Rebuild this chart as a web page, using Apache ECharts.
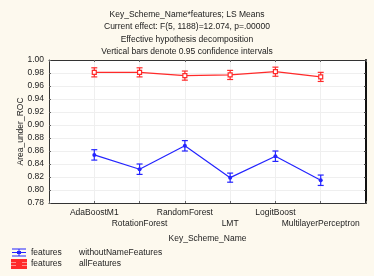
<!DOCTYPE html>
<html><head><meta charset="utf-8">
<script src="https://cdn.jsdelivr.net/npm/echarts@6/dist/echarts.min.js"></script>
<style>html,body{margin:0;padding:0;background:#fdf9ee;}#c{width:374px;height:276px;}</style>
</head><body><div id="c"></div>
<script>
const categories = ['AdaBoostM1','RotationForest','RandomForest','LMT','LogitBoost','MultilayerPerceptron'];
const seriesNames = ['withoutNameFeatures','allFeatures'];
const withoutNameFeatures = [0.854, 0.832, 0.868, 0.819, 0.852, 0.815];
const withoutNameErr = [0.008, 0.008, 0.008, 0.007, 0.008, 0.008];
const allFeatures = [0.981, 0.981, 0.976, 0.977, 0.982, 0.974];
const allFeaturesErr = [0.007, 0.007, 0.007, 0.007, 0.007, 0.007];
const titleLines = ['Key_Scheme_Name*features; LS Means','Current effect: F(5, 1188)=12.074, p=.00000','Effective hypothesis decomposition','Vertical bars denote 0.95 confidence intervals'];

const FONT = 'Liberation Sans, Arial, sans-serif';
const FS = 8.5;
const BLUE = '#2424ff', RED = '#ff2a2a';
const axisCats = [''].concat(categories, ['']);

function errSeries(name, vals, errs, color) {
  return {
    type: 'custom', name: name, silent: true, z: 4,
    data: vals.map((v, i) => [i + 1, v, errs[i]]),
    renderItem: function (params, api) {
      const x = api.value(0), v = api.value(1), e = api.value(2);
      const top = api.coord([x, v + e]), bot = api.coord([x, v - e]);
      const w = 3;
      const st = {stroke: color, lineWidth: 1.2};
      return {type: 'group', children: [
        {type: 'line', shape: {x1: top[0], y1: top[1], x2: bot[0], y2: bot[1]}, style: st},
        {type: 'line', shape: {x1: top[0]-w, y1: top[1], x2: top[0]+w, y2: top[1]}, style: st},
        {type: 'line', shape: {x1: bot[0]-w, y1: bot[1], x2: bot[0]+w, y2: bot[1]}, style: st}
      ]};
    }
  };
}
const iconPath = 'path://M0,0H14V1H0Z M0,3.5H14V4.5H0Z M0,7H14V8H0Z M6.5,0H7.5V8H6.5Z M5,2.5H9V5.5H5Z';

const chart = echarts.init(document.getElementById('c'), null, {renderer: 'canvas'});
chart.setOption({
  backgroundColor: '#fdf9ee',
  animation: false,
  textStyle: {fontFamily: FONT},
  title: {
    text: titleLines.join('\n'), left: 'center', top: 3,
    textStyle: {fontFamily: FONT, fontSize: FS, fontWeight: 'normal', color: '#1a1a1a', lineHeight: 12.5}
  },
  grid: {left: 49, right: 8, top: 60, bottom: 73, show: true, backgroundColor: '#ffffff', borderWidth: 0},
  legend: {
    orient: 'vertical', left: 11, top: 248, padding: 0, itemWidth: 14, itemHeight: 8, itemGap: 2,
    icon: iconPath, selectedMode: false,
    data: seriesNames.map((n, i) => ({name: n, itemStyle: {color: i === 0 ? BLUE : RED}})),
    formatter: n => '{a|features}{b|' + n + '}',
    textStyle: {fontFamily: FONT, fontSize: FS, color: '#222', padding: [0,0,0,0],
      rich: {a: {width: 48, fontSize: FS, fontFamily: FONT, color: '#222', lineHeight: 10}, b: {fontSize: FS, fontFamily: FONT, color: '#222', lineHeight: 10}}}
  },
  xAxis: [{
    type: 'category', data: axisCats, boundaryGap: false, position: 'bottom',
    name: 'Key_Scheme_Name', nameLocation: 'middle', nameGap: 30,
    nameTextStyle: {fontFamily: FONT, fontSize: FS, color: '#222'},
    axisLine: {lineStyle: {color: '#333', width: 1}},
    axisTick: {inside: true, length: 2, lineStyle: {color: '#666'}, interval: 0},
    axisLabel: {interval: 0, fontFamily: FONT, fontSize: FS, color: '#222', margin: 4, lineHeight: 11,
      formatter: (v, i) => (i % 2 === 0 ? '\n' + v : v)},
    splitLine: {show: true, interval: 0, lineStyle: {color: '#efefef', width: 1}}
  }, {
    type: 'category', data: axisCats, boundaryGap: false, position: 'top',
    axisLine: {lineStyle: {color: '#333', width: 1}},
    axisTick: {inside: true, length: 2, lineStyle: {color: '#666'}, interval: 0},
    axisLabel: {show: false}, splitLine: {show: false}
  }],
  yAxis: [{
    type: 'value', min: 0.78, max: 1.00, interval: 0.02, position: 'left',
    name: 'Area_under_ROC', nameLocation: 'middle', nameGap: 24, nameMoveOverlap: false,
    nameTextStyle: {fontFamily: FONT, fontSize: FS, color: '#222'},
    axisLine: {show: true, lineStyle: {color: '#333', width: 1}},
    axisTick: {show: true, inside: true, length: 2, lineStyle: {color: '#666'}},
    axisLabel: {fontFamily: FONT, fontSize: FS, color: '#222', margin: 5, formatter: v => v.toFixed(2)},
    splitLine: {show: true, lineStyle: {color: '#efefef', width: 1}}
  }, {
    type: 'value', min: 0.78, max: 1.00, interval: 0.02, position: 'right',
    axisLine: {show: true, lineStyle: {color: '#111', width: 2}},
    axisTick: {show: true, inside: true, length: 2, lineStyle: {color: '#444'}},
    axisLabel: {show: false}, splitLine: {show: false}
  }],
  series: [
    {type: 'line', name: seriesNames[0], data: withoutNameFeatures.map((v, i) => [i + 1, v]),
      color: BLUE, lineStyle: {color: BLUE, width: 1.2}, symbol: 'circle', symbolSize: 4,
      itemStyle: {color: BLUE}, z: 5},
    {type: 'line', name: seriesNames[1], data: allFeatures.map((v, i) => [i + 1, v]),
      color: RED, lineStyle: {color: RED, width: 1.2}, symbol: 'rect', symbolSize: 4,
      itemStyle: {color: '#ffffff', borderColor: RED, borderWidth: 1.2}, z: 5},
    errSeries('err0', withoutNameFeatures, withoutNameErr, BLUE),
    errSeries('err1', allFeatures, allFeaturesErr, RED)
  ]
});
</script></body></html>
